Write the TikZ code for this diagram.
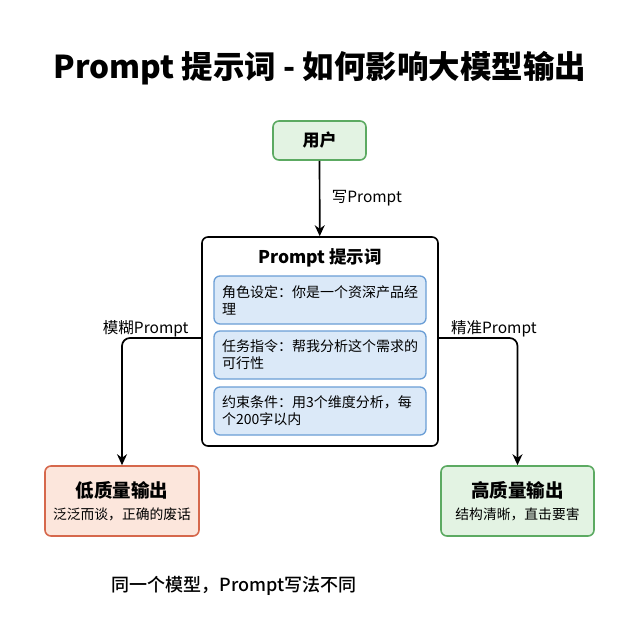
\documentclass[tikz,border=0pt]{standalone}
\usepackage{fontspec}
\setmainfont{Noto Sans CJK SC}
\newfontfamily\medfont{Noto Sans CJK SC Medium}
\usepackage{tikz}
\usetikzlibrary{arrows.meta,positioning}
\definecolor{usergreen}{RGB}{227,243,227}
\definecolor{userline}{RGB}{92,170,98}
\definecolor{partblue}{RGB}{219,233,248}
\definecolor{partline}{RGB}{106,158,214}
\definecolor{lowred}{RGB}{252,230,220}
\definecolor{lowline}{RGB}{214,104,76}

\begin{document}
\begin{tikzpicture}[>=Stealth, x=1pt, y=-1pt,
  box/.style={draw, rounded corners=6, line width=1.6pt, align=center},
  part/.style={draw=partline, fill=partblue, rounded corners=6, line width=1.3pt,
    minimum width=212, minimum height=48, text width=196, align=left, font=\fontsize{14}{17}\selectfont},
  conn/.style={->, line width=1.7pt, rounded corners=8, arrows={-Stealth[length=11pt,width=10pt]}},
  lbl/.style={font=\fontsize{15.5}{18}\selectfont}]
\useasboundingbox (0,0) rectangle (640,640);
% title
\node[font=\fontsize{31.5}{36}\selectfont\bfseries] (title) at (320,68) {Prompt 提示词 - 如何影响大模型输出};
% user and prompt
\node[box, draw=userline, fill=usergreen, minimum width=93, minimum height=39,
  font=\fontsize{17}{20}\selectfont\bfseries] (user) at (319.5,140.5) {用户};
\node[box, draw=black, fill=white, minimum width=236, minimum height=209] (prompt) at (320,341.5) {};
\node[font=\fontsize{17.5}{20}\selectfont\bfseries] (head) at (320,258) {Prompt 提示词};
\node[part] (role) at (320,300) {角色设定：你是一个资深产品经\\理};
\node[part] (task) at (320,355) {任务指令：帮我分析这个需求的\\可行性};
\node[part] (rule) at (320,411) {约束条件：用3个维度分析，每\\个200字以内};
% outputs
\node[box, draw=lowline, fill=lowred, minimum width=154, minimum height=70] (low) at (122,501)
  {{\fontsize{18.5}{22}\selectfont\bfseries 低质量输出}\\[7pt]{\fontsize{13.8}{16}\selectfont 泛泛而谈，正确的废话}};
\node[box, draw=userline, fill=usergreen, minimum width=153, minimum height=70] (high) at (517.5,501)
  {{\fontsize{18.5}{22}\selectfont\bfseries 高质量输出}\\[7pt]{\fontsize{13.8}{16}\selectfont 结构清晰，直击要害}};
% connectors
\draw[conn] (user) -- (prompt) node[midway, right=8pt, lbl] {写Prompt};
\draw[conn] ([yshift=3.5]prompt.west) -| (low) node[pos=.35, above=-3pt, lbl] {模糊Prompt};
\draw[conn] ([yshift=3.5]prompt.east) -| (high) node[pos=.35, above=-3pt, lbl] {精准Prompt};
% note
\node[anchor=west, font=\fontsize{18}{22}\selectfont\medfont] (note) at (108,586) {同一个模型，Prompt写法不同};
\end{tikzpicture}
\end{document}
